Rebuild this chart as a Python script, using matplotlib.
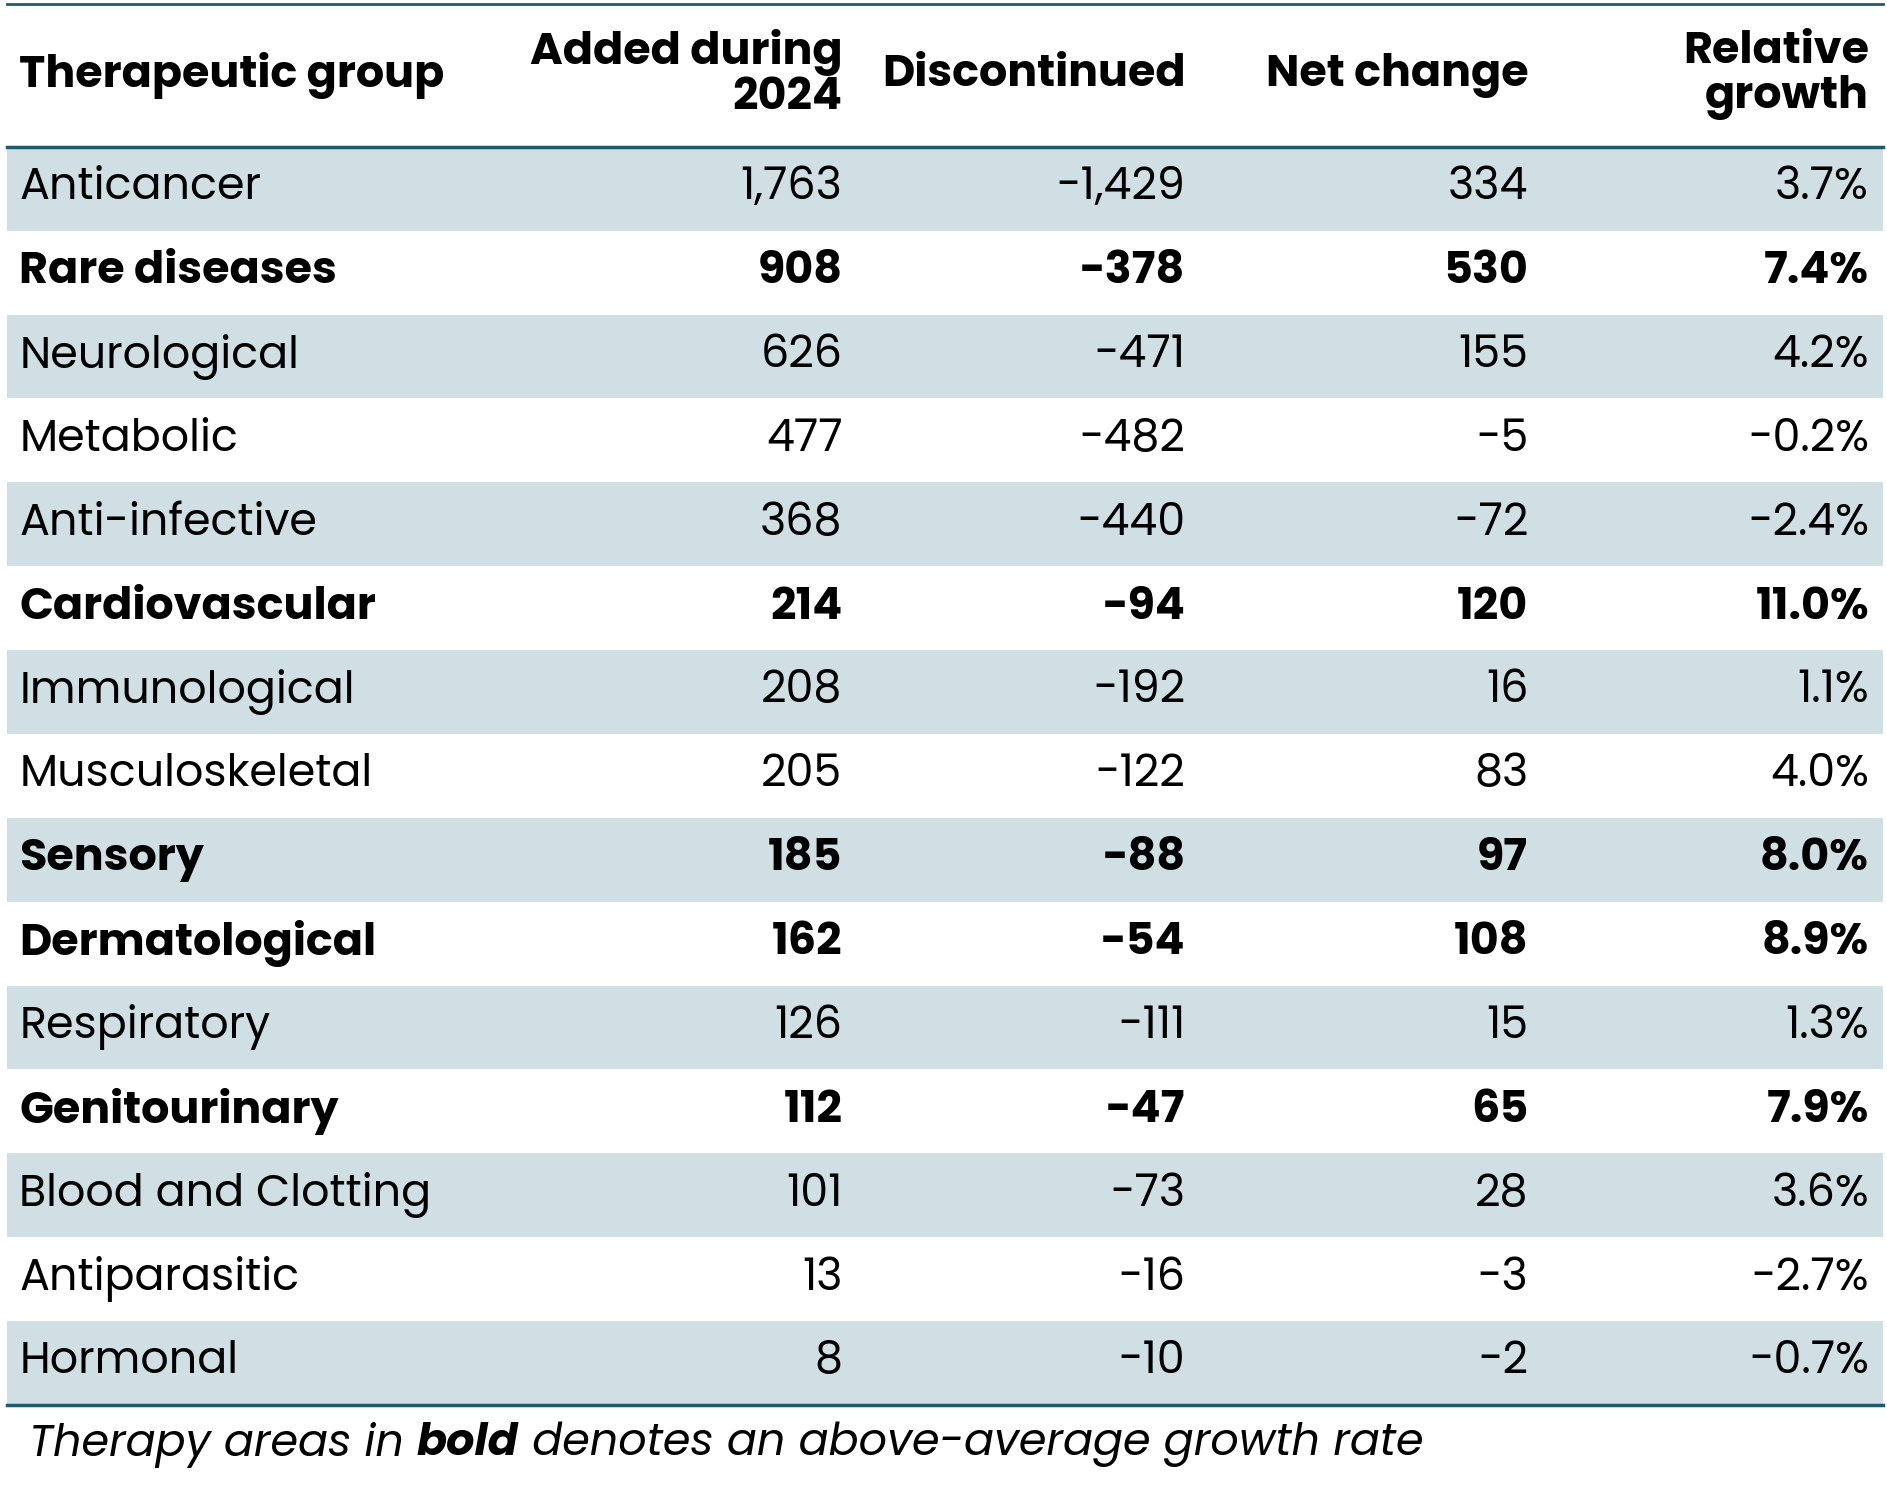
import matplotlib.pyplot as plt
from matplotlib.patches import Rectangle

groups = ['Anticancer', 'Rare diseases', 'Neurological', 'Metabolic', 'Anti-infective',
          'Cardiovascular', 'Immunological', 'Musculoskeletal', 'Sensory', 'Dermatological',
          'Respiratory', 'Genitourinary', 'Blood and Clotting', 'Antiparasitic', 'Hormonal']
added = ['1,763', '908', '626', '477', '368', '214', '208', '205', '185', '162', '126', '112', '101', '13', '8']
discontinued = ['-1,429', '-378', '-471', '-482', '-440', '-94', '-192', '-122', '-88', '-54', '-111', '-47', '-73', '-16', '-10']
net_change = ['334', '530', '155', '-5', '-72', '120', '16', '83', '97', '108', '15', '65', '28', '-3', '-2']
growth = ['3.7%', '7.4%', '4.2%', '-0.2%', '-2.4%', '11.0%', '1.1%', '4.0%', '8.0%', '8.9%', '1.3%', '7.9%', '3.6%', '-2.7%', '-0.7%']
bold_rows = ['Rare diseases', 'Cardiovascular', 'Sensory', 'Dermatological', 'Genitourinary']
headers = ['Therapeutic group', 'Added during\n2024', 'Discontinued', 'Net change', 'Relative\ngrowth']

W, H = 1568, 1256
line_c = '#1f5a6a'
band_c = '#cfdfe3'
font = ['Poppins', 'Inter', 'DejaVu Sans']

fig = plt.figure(figsize=(18.87, 15.12), dpi=100)
ax = fig.add_axes([0, 0, 1, 1])
ax.set_xlim(0, W)
ax.set_ylim(H, 0)
ax.axis('off')

x_left, x_right = 6, 1565
top, head_bot, bot = 3, 122, 1167
row_h = (bot - head_bot) / len(groups)
col_right = [700, 985, 1270, 1553]
fs = 32

ax.plot([x_left, x_right], [top, top], color=line_c, lw=2)
for j, h in enumerate(headers):
    if j == 0:
        ax.text(16, (top + head_bot) / 2, h, ha='left', va='center', fontsize=fs,
                fontweight='bold', family=font, linespacing=1.0)
    else:
        ax.text(col_right[j - 1], (top + head_bot) / 2, h, ha='right', va='center',
                fontsize=fs, fontweight='bold', family=font, linespacing=1.0)

for i, g in enumerate(groups):
    y0 = head_bot + i * row_h
    if i % 2 == 0:
        ax.add_patch(Rectangle((x_left, y0), x_right - x_left, row_h, color=band_c, lw=0))
    yc = y0 + row_h / 2
    w = 'bold' if g in bold_rows else 'normal'
    ax.text(16, yc, g, ha='left', va='center', fontsize=fs, fontweight=w, family=font)
    for j, vals in enumerate([added, discontinued, net_change, growth]):
        ax.text(col_right[j], yc, vals[i], ha='right', va='center', fontsize=fs,
                fontweight=w, family=font)

ax.plot([x_left, x_right], [head_bot, head_bot], color=line_c, lw=2.5)
ax.plot([x_left, x_right], [bot, bot], color=line_c, lw=2.5)

t1 = ax.text(24, 1200, 'Therapy areas in ', ha='left', va='center', fontsize=fs,
             style='italic', family=font)
fig.canvas.draw()
inv = ax.transData.inverted()
bb = t1.get_window_extent()
x1 = inv.transform((bb.x1, bb.y0))[0]
t2 = ax.text(x1, 1200, 'bold', ha='left', va='center', fontsize=fs, style='italic',
             fontweight='bold', family=font)
fig.canvas.draw()
bb2 = t2.get_window_extent()
x2 = inv.transform((bb2.x1, bb2.y0))[0]
ax.text(x2, 1200, ' denotes an above-average growth rate', ha='left', va='center',
        fontsize=fs, style='italic', family=font)

fig.savefig('out.png', dpi=100)
